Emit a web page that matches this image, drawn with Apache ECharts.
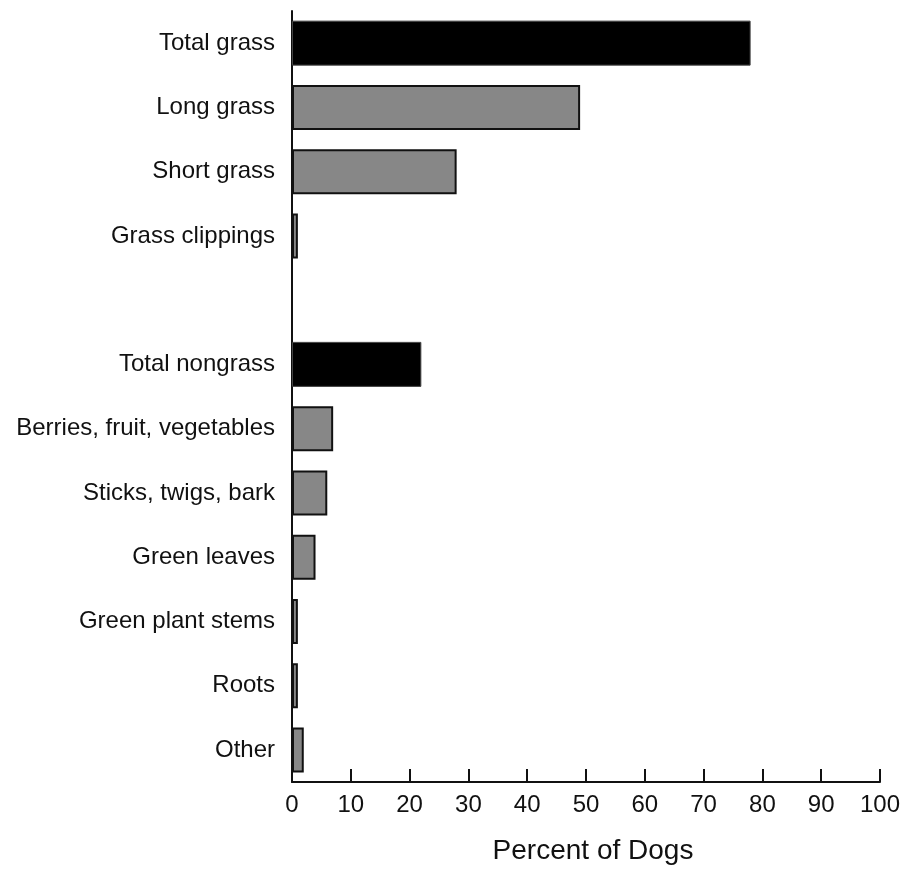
<!DOCTYPE html>
<html>
<head>
<meta charset="utf-8">
<script src="https://cdn.jsdelivr.net/npm/echarts@6/dist/echarts.min.js"></script>
<style>html,body{margin:0;padding:0;background:#fff;overflow:hidden}#c{width:903px;height:870px}</style>
</head>
<body>
<div id="c"></div>
<script>
const categories = ['Total grass','Long grass','Short grass','Grass clippings','','Total nongrass','Berries, fruit, vegetables','Sticks, twigs, bark','Green leaves','Green plant stems','Roots','Other'];
const totalValues = [78,'-','-','-','-',22,'-','-','-','-','-','-'];
const subValues = ['-',49,28,1,'-','-',7,6,4,1,1,2];
const xTicks = [0,10,20,30,40,50,60,70,80,90,100];

const chart = echarts.init(document.getElementById('c'));
const font = 'Liberation Sans, Arial, sans-serif';
chart.setOption({
  animation:false,
  grid:{left:292,right:18,top:11,bottom:82,containLabel:false},
  xAxis:{
    type:'value',min:xTicks[0],max:xTicks[xTicks.length-1],interval:10,
    name:'Percent of Dogs',nameLocation:'middle',nameGap:55,
    nameTextStyle:{fontFamily:font,fontSize:28,color:'#111',padding:[0,0,0,14]},
    axisLine:{show:true,lineStyle:{color:'#111',width:2}},
    axisTick:{show:true,inside:true,length:13,lineStyle:{color:'#111',width:2}},
    axisLabel:{fontFamily:font,fontSize:24,color:'#111',margin:11},
    splitLine:{show:false}
  },
  yAxis:{
    type:'category',data:categories,inverse:true,
    axisLine:{show:true,lineStyle:{color:'#111',width:2}},
    axisTick:{show:false},
    axisLabel:{fontFamily:font,fontSize:24,color:'#111',margin:17}
  },
  series:[
    {type:'bar',name:'Total',stack:'a',data:totalValues,barWidth:45,
     itemStyle:{color:'#000',borderColor:'#444',borderWidth:1}},
    {type:'bar',name:'Sub',stack:'a',data:subValues,barWidth:45,
     itemStyle:{color:'#878787',borderColor:'#111',borderWidth:2}}
  ]
});
</script>
</body>
</html>
